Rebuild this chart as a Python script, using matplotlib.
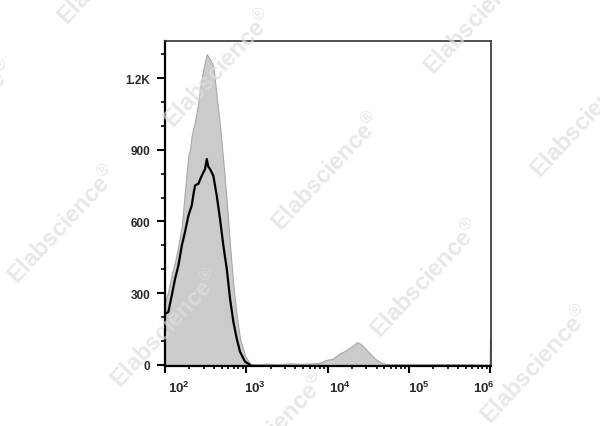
# coding:utf-8

import numpy as np
import matplotlib
matplotlib.use("Agg")
import matplotlib.pyplot as plt
from matplotlib.ticker import FixedLocator, LogLocator, MultipleLocator, NullFormatter
from matplotlib.transforms import ScaledTranslation

plt.rcParams['font.family'] = ['Liberation Sans', 'DejaVu Sans']
plt.rcParams['mathtext.fontset'] = 'custom'
plt.rcParams['mathtext.rm'] = 'Liberation Sans'
plt.rcParams['mathtext.bf'] = 'Liberation Sans:bold'

# 主峰区域 (两条直方图共用的通道)
main_x = [100, 110, 121, 133, 146, 161, 176, 194, 203, 213, 223, 234, 246, 257,
          270, 283, 296, 311, 326, 340, 358, 393, 433, 475, 522, 575, 631, 693,
          763, 838, 966, 1110]
stained = [260, 310, 380, 430, 500, 582, 729, 880, 900, 960, 990, 1020, 1060, 1100,
           1154, 1200, 1237, 1270, 1300, 1290, 1279, 1250, 1120, 1000, 849, 680, 498, 330,
           205, 109, 38, 4]
isotype = [213, 221, 290, 360, 415, 499, 555, 624, 645, 666, 710, 750, 755, 757,
           775, 791, 805, 819, 861, 830, 819, 791, 708, 610, 499, 401, 276, 180,
           109, 54, 13, 0]

# 高荧光区域 (只有染色样本)
tail_x = [1350, 1800, 2500, 3500, 5000, 6500, 7943, 9530, 11500, 13840, 16640, 20040,
          23050, 25300, 29100, 33450, 38400, 46200, 55700, 80000, 150000, 300000,
          600000, 980000, 995000, 1000000]
tail_y = [3, 5, 3, 6, 4, 6, 8, 20, 25, 46, 60, 78,
          95, 88, 67, 46, 25, 8, 2, 3, 2, 3,
          2, 0, 115, 115]

y_ticks = [0, 300, 600, 900, 1200]
y_labels = ['0', '300', '600', '900', '1.2K']
x_ticks = [1e2, 1e3, 1e4, 1e5, 1e6]
x_labels = [r'$\mathbf{10^{2}}$', r'$\mathbf{10^{3}}$', r'$\mathbf{10^{4}}$',
            r'$\mathbf{10^{5}}$', r'$\mathbf{10^{6}}$']

# 水印起点 (像素)
marks = [(67, 27), (-86, 181), (173, 130), (281, 233), (433, 77), (540, 180),
         (17, 286), (120, 390), (380, 340), (490, 426), (226, 493)]


def main():
    fig = plt.figure(figsize=(6, 4.27), dpi=100)
    ax = fig.add_axes([0.275, 0.1405, 0.5433, 0.7611])

    gx = np.array(main_x + tail_x, dtype=float)
    gy = np.array(stained + tail_y, dtype=float)
    ax.fill_between(gx, 0, gy, color='#cbcbcb', edgecolor='#a8a8a8', lw=0.8, zorder=2)
    ax.plot(main_x, isotype, color='black', lw=1.6, zorder=3)

    ax.set_xscale('log')
    ax.set_xlim(100, 1.02e6)
    ax.set_ylim(-5, 1355)

    ax.xaxis.set_major_locator(FixedLocator(x_ticks))
    ax.set_xticklabels(x_labels)
    ax.xaxis.set_minor_locator(LogLocator(base=10, subs=np.arange(2, 10)))
    ax.xaxis.set_minor_formatter(NullFormatter())
    ax.yaxis.set_major_locator(FixedLocator(y_ticks))
    ax.set_yticklabels(y_labels)
    ax.yaxis.set_minor_locator(MultipleLocator(100))

    ax.tick_params(axis='x', which='major', direction='out', length=5, width=1.5,
                   pad=5, labelsize=9.5, labelcolor='#2a2a2a')
    ax.tick_params(axis='x', which='minor', direction='out', length=2.5, width=1.2)
    ax.tick_params(axis='y', which='major', direction='out', length=5.5, width=1.5,
                   pad=5, labelsize=8.5, labelcolor='#2a2a2a')
    ax.tick_params(axis='y', which='minor', direction='out', length=3, width=1.2)
    for lab in ax.get_yticklabels():
        lab.set_fontweight('bold')

    # x轴标签偏移
    shifts = [14, 9, 12, 10, -6]
    for lab, dx in zip(ax.get_xticklabels(), shifts):
        lab.set_transform(lab.get_transform() + ScaledTranslation(dx / 100.0, 0, fig.dpi_scale_trans))

    for side in ['left', 'bottom']:
        ax.spines[side].set_linewidth(1.6)
        ax.spines[side].set_color('black')
    for side in ['top', 'right']:
        ax.spines[side].set_linewidth(1.2)
        ax.spines[side].set_color('#333333')

    # 水印
    for px, py in marks:
        fig.text(px / 600.0, 1 - py / 427.0, 'Elabscience$^{\u00ae}$', rotation=47,
                 rotation_mode='anchor', ha='left', va='baseline', fontsize=17,
                 fontweight='bold', color='#dedede', alpha=0.7, zorder=10)

    fig.savefig('out.png', dpi=100)


if __name__ == "__main__":
    main()
